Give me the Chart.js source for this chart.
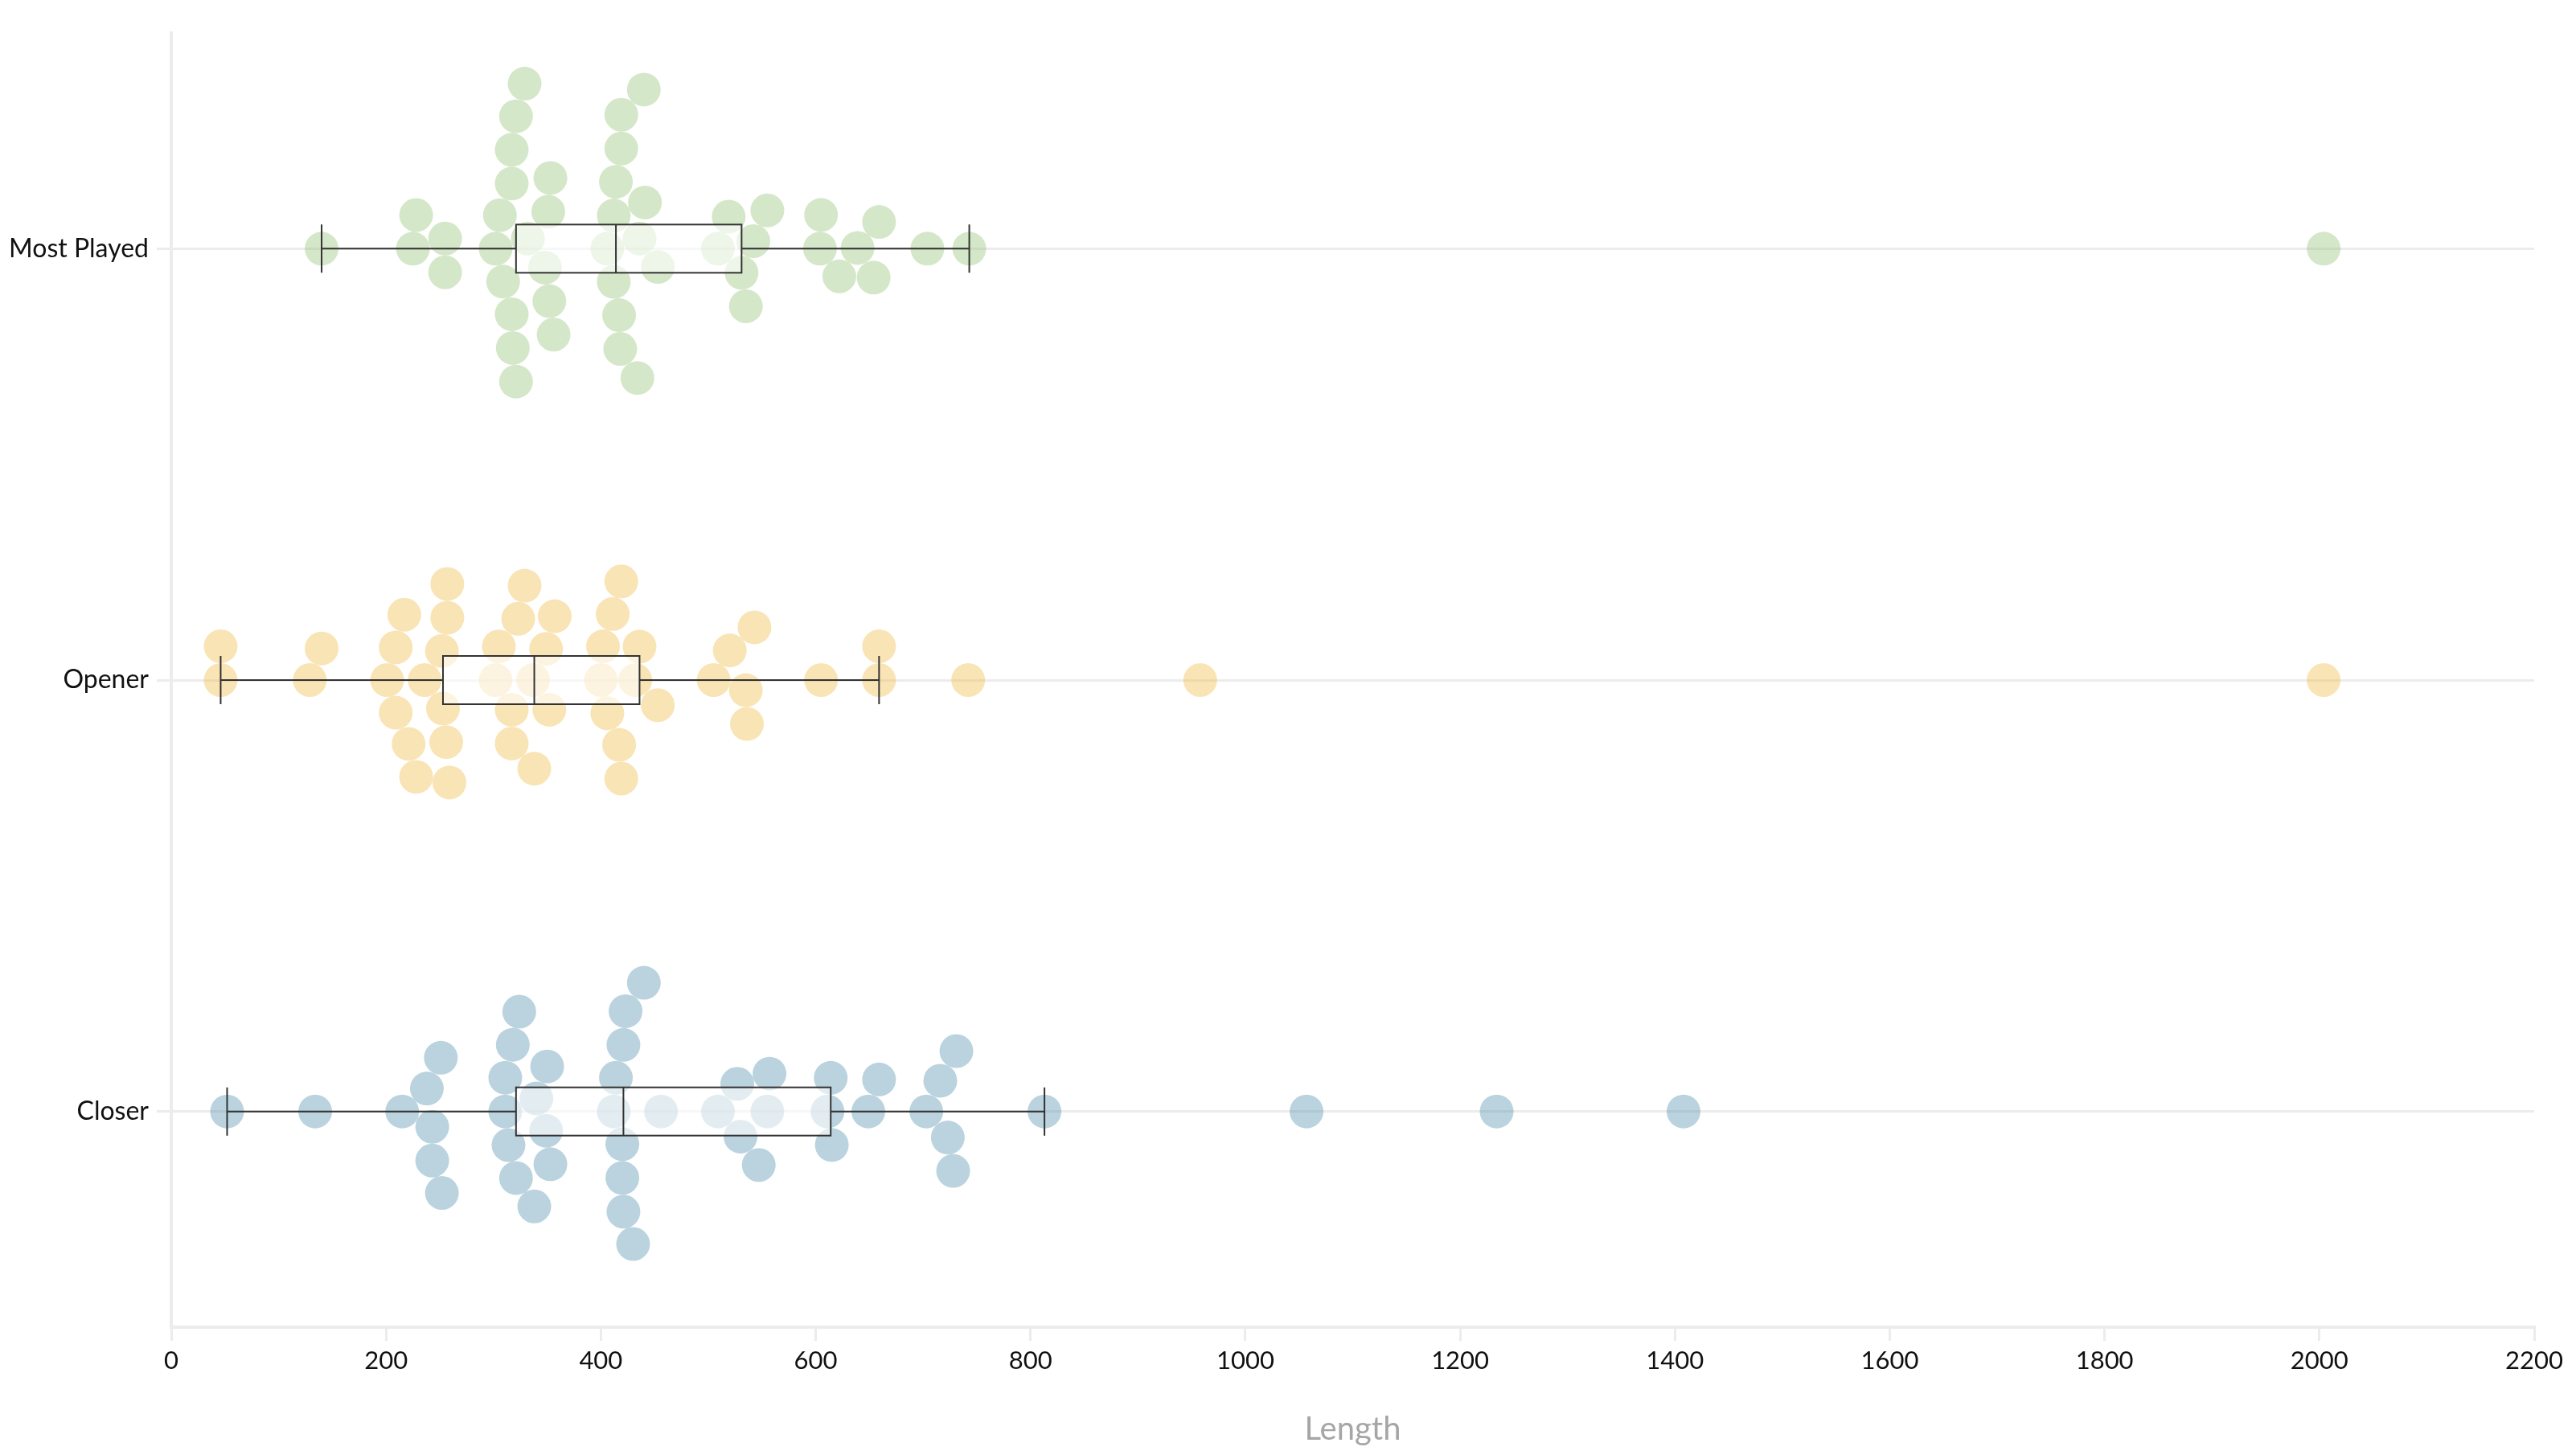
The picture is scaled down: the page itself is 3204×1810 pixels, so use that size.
<!DOCTYPE html>
<html>
<head>
<meta charset="utf-8">
<script src="https://cdn.jsdelivr.net/npm/chart.js@4.4.1/dist/chart.umd.min.js"></script>
<style>
  html, body { margin: 0; padding: 0; background: #fff; }
  #wrap { width: 3204px; height: 1810px; }
</style>
</head>
<body>
<div id="wrap"><canvas id="swarmChart"></canvas></div>
<script>
// categories top to bottom
const categories = ['Most Played', 'Opener', 'Closer'];
const catY = [2, 1, 0];

// track lengths
const mostPlayed = [140, 225, 228, 255, 255, 302, 306, 309, 317, 317, 317, 318, 321, 321, 329, 332,
  348, 351, 352, 353, 356, 406, 412, 412, 414, 417, 418, 419, 419, 434, 436, 440, 441, 453, 509,
  519, 531, 535, 542, 555, 604, 605, 622, 639, 654, 659, 704, 743, 2004];
const opener = [46, 46, 129, 140, 201, 209, 209, 217, 221, 228, 236, 252, 253, 256, 257, 257, 259,
  302, 305, 317, 317, 323, 329, 337, 338, 349, 352, 357, 400, 402, 406, 411, 417, 419, 419, 432,
  436, 453, 505, 520, 535, 536, 543, 605, 659, 659, 742, 958, 2004];
const closer = [52, 134, 215, 238, 243, 243, 251, 252, 311, 311, 314, 318, 321, 324, 338, 340, 349,
  350, 353, 412, 414, 420, 420, 421, 421, 423, 430, 440, 456, 509, 527, 530, 547, 555, 557, 611,
  614, 615, 649, 659, 703, 716, 723, 728, 731, 813, 1057, 1234, 1408];

const xTicks = [0, 200, 400, 600, 800, 1000, 1200, 1400, 1600, 1800, 2000, 2200];
const series = [mostPlayed, opener, closer];
const dotColors = ['rgba(150,195,120,0.4)', 'rgba(240,188,70,0.4)', 'rgba(83,145,173,0.4)'];
const R = 21;
const GRID = '#ececec';

// box plot numbers (tukey whiskers)
function quantile(s, p) {
  const i = (s.length - 1) * p;
  const lo = Math.floor(i), hi = Math.ceil(i);
  return s[lo] + (s[hi] - s[lo]) * (i - lo);
}
function boxStats(vals) {
  const s = vals.slice().sort((a, b) => a - b);
  const q1 = quantile(s, 0.25), med = quantile(s, 0.5), q3 = quantile(s, 0.75);
  const iqr = q3 - q1;
  const inside = s.filter(v => v >= q1 - 1.5 * iqr && v <= q3 + 1.5 * iqr);
  return { q1, med, q3, lo: inside[0], hi: inside[inside.length - 1] };
}
const stats = series.map(boxStats);

// simple beeswarm: keep x, push dots up/down until they stop overlapping
function swarm(pxs, r) {
  const order = pxs.map((x, i) => i).sort((a, b) => pxs[a] - pxs[b]);
  const placed = [];
  const offs = new Array(pxs.length).fill(0);
  const d = 2 * r;
  order.forEach(i => {
    const x = pxs[i];
    const near = placed.filter(p => Math.abs(p.x - x) < d);
    const cands = [0];
    near.forEach(p => {
      const dy = Math.sqrt(d * d - (p.x - x) * (p.x - x));
      cands.push(p.y + dy, p.y - dy);
    });
    cands.sort((a, b) => Math.abs(a) - Math.abs(b));
    let y = 0;
    for (const c of cands) {
      if (near.every(p => (p.x - x) ** 2 + (p.y - c) ** 2 >= d * d - 0.5)) { y = c; break; }
    }
    placed.push({ x, y });
    offs[i] = y;
  });
  return offs;
}

const boxPlugin = {
  id: 'boxes',
  afterDatasetsDraw(chart) {
    const { ctx, scales: { x, y } } = chart;
    const h = 30;
    ctx.save();
    ctx.strokeStyle = '#333';
    ctx.lineWidth = 2;
    stats.forEach((st, i) => {
      const cy = y.getPixelForValue(catY[i]);
      const lo = x.getPixelForValue(st.lo), hi = x.getPixelForValue(st.hi);
      const q1 = x.getPixelForValue(st.q1), q3 = x.getPixelForValue(st.q3);
      const md = x.getPixelForValue(st.med);
      ctx.beginPath();
      ctx.moveTo(lo, cy); ctx.lineTo(q1, cy);
      ctx.moveTo(q3, cy); ctx.lineTo(hi, cy);
      ctx.moveTo(lo, cy - h); ctx.lineTo(lo, cy + h);
      ctx.moveTo(hi, cy - h); ctx.lineTo(hi, cy + h);
      ctx.stroke();
      ctx.fillStyle = 'rgba(255,255,255,0.6)';
      ctx.fillRect(q1, cy - h, q3 - q1, 2 * h);
      ctx.strokeRect(q1, cy - h, q3 - q1, 2 * h);
      ctx.beginPath();
      ctx.moveTo(md, cy - h); ctx.lineTo(md, cy + h);
      ctx.stroke();
    });
    ctx.restore();
  }
};

const ctx = document.getElementById('swarmChart').getContext('2d');
const chart = new Chart(ctx, {
  type: 'scatter',
  data: {
    datasets: series.map((vals, i) => ({
      label: categories[i],
      data: vals.map(v => ({ x: v, y: catY[i] })),
      backgroundColor: dotColors[i],
      borderWidth: 0,
      pointRadius: R,
      pointHoverRadius: R
    }))
  },
  options: {
    responsive: true,
    maintainAspectRatio: false,
    animation: false,
    layout: { padding: { top: 41, left: 8, right: 52, bottom: 0 } },
    plugins: { legend: { display: false }, tooltip: { enabled: false } },
    scales: {
      x: {
        type: 'linear',
        min: 0,
        max: 2200,
        afterBuildTicks: s => { s.ticks = xTicks.map(v => ({ value: v })); },
        afterFit: s => { s.height = 159; },
        grid: { drawOnChartArea: false, drawTicks: true, tickLength: 17, color: GRID, lineWidth: 3 },
        border: { display: true, color: GRID, width: 4 },
        ticks: {
          color: '#111', padding: 6, font: { family: 'Lato', size: 31 },
          callback: v => String(v)
        },
        title: {
          display: true, text: 'Length', color: '#a6a6a6',
          font: { family: 'Lato', size: 40 }, padding: { top: 0, bottom: 8 }
        }
      },
      y: {
        type: 'linear',
        min: -0.5,
        max: 2.5,
        afterBuildTicks: s => { s.ticks = catY.map(v => ({ value: v })); },
        afterFit: s => { s.width = 205; },
        grid: { color: GRID, lineWidth: 3, tickLength: 18 },
        border: { display: true, color: GRID, width: 4 },
        ticks: {
          color: '#111', padding: 10, font: { family: 'Lato', size: 32 },
          callback: v => categories[catY.indexOf(v)]
        }
      }
    }
  },
  plugins: [boxPlugin]
});

// second pass: spread the dots once the scales know their pixels
function applySwarm() {
  const xs = chart.scales.x, ys = chart.scales.y;
  const unit = Math.abs(ys.getPixelForValue(1) - ys.getPixelForValue(0));
  chart.data.datasets.forEach((ds, i) => {
    const offs = swarm(series[i].map(v => xs.getPixelForValue(v)), R);
    ds.data = series[i].map((v, j) => ({ x: v, y: catY[i] + offs[j] / unit }));
  });
  chart.update('none');
}
applySwarm();
</script>
</body>
</html>
